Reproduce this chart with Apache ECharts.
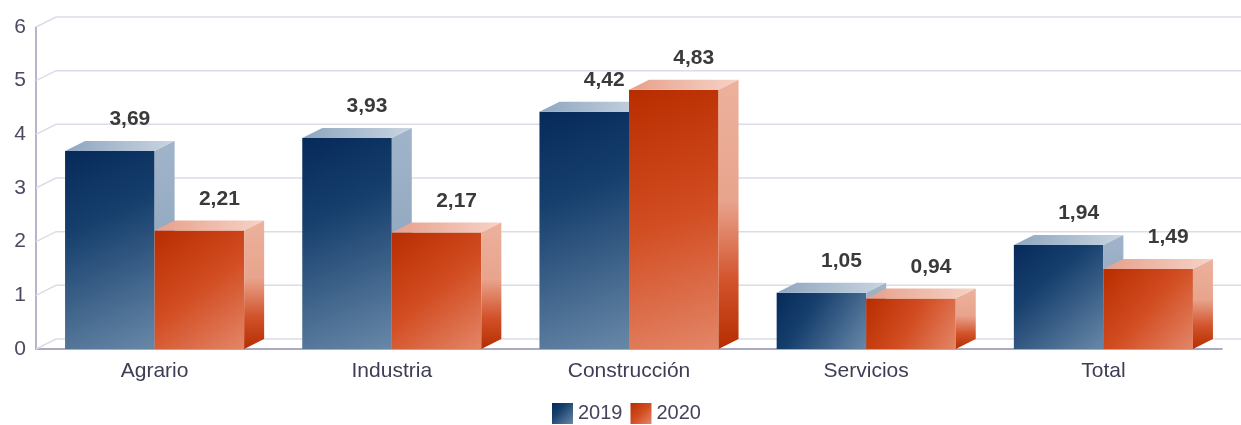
<!DOCTYPE html>
<html>
<head>
<meta charset="utf-8">
<script src="https://cdn.jsdelivr.net/npm/echarts@6/dist/echarts.min.js"></script>
<style>
  html, body { margin: 0; padding: 0; background: #fff; }
  #chart { width: 1241px; height: 425px; }
</style>
</head>
<body>
<div id="chart"></div>
<script>
var categories = ['Agrario', 'Industria', 'Construcción', 'Servicios', 'Total'];
var values2019 = [3.69, 3.93, 4.42, 1.05, 1.94];
var values2020 = [2.21, 2.17, 4.83, 0.94, 1.49];
var yTicks = [0, 1, 2, 3, 4, 5, 6];

(function() {
  var font = 'Liberation Sans, Arial, sans-serif';
  var DX = 20, DY = 10;        // depth of the 3d effect
  var BAR_RATIO = 0.3775;      // one bar width / category band

  function lin(x, y, x2, y2, stops) {
    return { type: 'linear', x: x, y: y, x2: x2, y2: y2,
      colorStops: stops.map(function(s) { return { offset: s[0], color: s[1] }; }) };
  }

  var styles = {
    blue: {
      front: lin(0, 0, 1, 1, [[0, '#062a5a'], [0.35, '#163f6d'], [1, '#6888a8']]),
      top: lin(0, 0, 1, 0, [[0, '#8ea6c0'], [1, '#c9d5e1']]),
      side: lin(0, 0, 0, 1, [[0, '#a0b4c9'], [0.5, '#94aac2'], [1, '#4f719a']])
    },
    red: {
      front: lin(0, 0, 1, 1, [[0, '#b82d00'], [0.5, '#d24d22'], [1, '#e38668']]),
      top: lin(0, 0, 1, 0, [[0, '#e6a08a'], [1, '#f6d3c7']]),
      side: lin(0, 0, 0, 1, [[0, '#ecb19c'], [0.45, '#e8a48d'], [0.75, '#d2522a'], [1, '#b52e00']])
    }
  };

  function fmt(v) { return v.toFixed(2).replace('.', ','); }

  function barRenderer(slot, st) {
    return function(params, api) {
      var idx = api.value(0), v = api.value(1);
      var p = api.coord([idx, v]);
      var base = api.coord([idx, 0]);
      var bw = api.size([1, 0])[0] * BAR_RATIO;
      var x1 = p[0] - bw + slot * bw, x2 = x1 + bw;
      var yt = p[1], yb = base[1];
      return {
        type: 'group',
        children: [
          { type: 'rect', shape: { x: x1, y: yt, width: bw, height: yb - yt }, style: { fill: st.front } },
          { type: 'polygon', shape: { points: [[x1, yt], [x1 + DX, yt - DY], [x2 + DX, yt - DY], [x2, yt]] }, style: { fill: st.top } },
          { type: 'polygon', shape: { points: [[x2, yt], [x2 + DX, yt - DY], [x2 + DX, yb - DY], [x2, yb]] }, style: { fill: st.side } },
          { type: 'text', z2: 100, style: {
              text: fmt(v), x: (x1 + x2) / 2 + DX, y: yt - DY - 11,
              align: 'center', verticalAlign: 'bottom',
              fontSize: 21, fontWeight: 'bold', fontFamily: font, fill: '#3a3a3a' } }
        ]
      };
    };
  }

  function gridRenderer(params, api) {
    var v = api.value(0);
    var y = api.coord([0, v])[1];
    var cs = params.coordSys;
    var x0 = cs.x;
    return {
      type: 'polyline',
      shape: { points: [[x0, y], [x0 + DX, y - DY], [x0 + cs.width + DX, y - DY]] },
      style: { stroke: '#dcdce8', lineWidth: 1.5, fill: null }
    };
  }

  var chart = echarts.init(document.getElementById('chart'), null, { renderer: 'canvas' });
  chart.setOption({
    animation: false,
    grid: { left: 36, right: 19, top: 27, bottom: 76 },
    legend: {
      left: 547,
      top: 398,
      itemWidth: 21,
      itemHeight: 21,
      itemGap: 8,
      icon: 'rect',
      data: ['2019', '2020'],
      textStyle: { fontSize: 20, color: '#44445a', fontFamily: font }
    },
    xAxis: {
      type: 'category',
      data: categories,
      axisLine: { lineStyle: { color: '#8f8fb0', width: 1.5 } },
      axisTick: { show: false },
      axisLabel: { fontSize: 21, color: '#3d3d55', fontFamily: font, margin: 12 }
    },
    yAxis: {
      type: 'value',
      min: 0,
      max: 6,
      interval: 1,
      axisLine: { show: true, lineStyle: { color: '#9c9cb8', width: 1.5 } },
      axisTick: { show: false },
      splitLine: { show: false },
      axisLabel: { fontSize: 21, color: '#4a4a60', fontFamily: font, margin: 10, padding: [5, 0, 0, 0] }
    },
    series: [
      {
        type: 'custom',
        z: 1,
        silent: true,
        renderItem: gridRenderer,
        data: yTicks.map(function(t) { return [t]; })
      },
      {
        name: '2019',
        type: 'custom',
        z: 2,
        itemStyle: { color: styles.blue.front },
        encode: { x: 0, y: 1 },
        renderItem: barRenderer(0, styles.blue),
        data: values2019.map(function(v, i) { return [i, v]; })
      },
      {
        name: '2020',
        type: 'custom',
        z: 2,
        itemStyle: { color: styles.red.front },
        encode: { x: 0, y: 1 },
        renderItem: barRenderer(1, styles.red),
        data: values2020.map(function(v, i) { return [i, v]; })
      }
    ]
  });
  window.addEventListener('resize', function() { chart.resize(); });
})();
</script>
</body>
</html>
